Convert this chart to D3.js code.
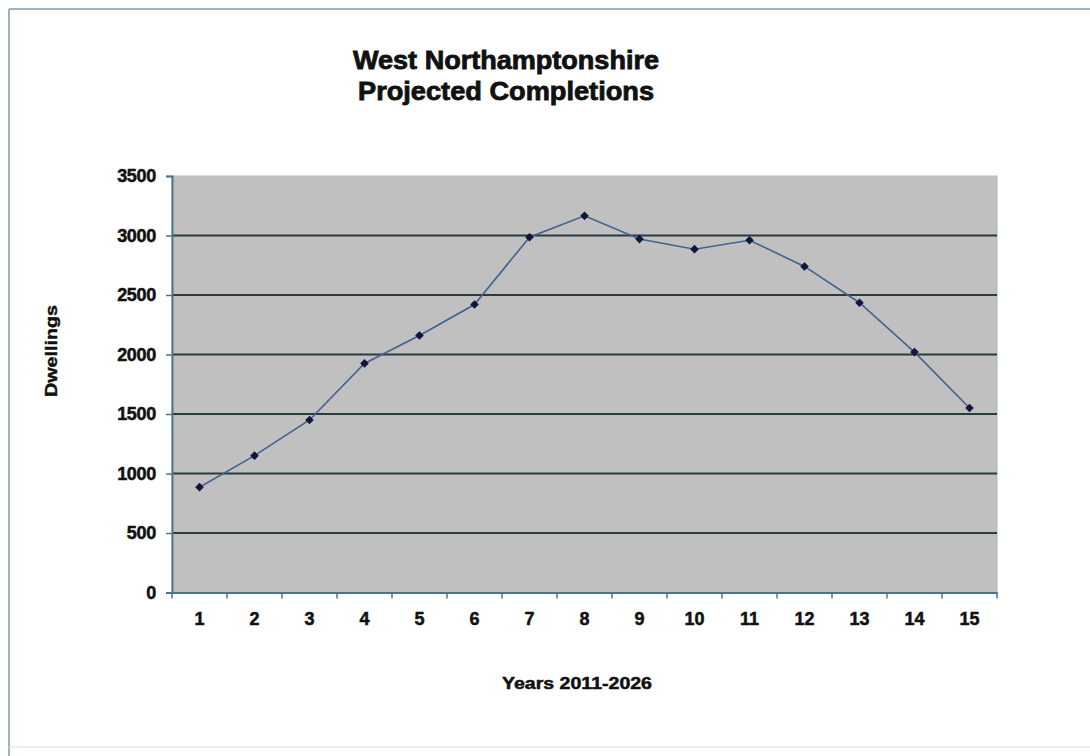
<!DOCTYPE html>
<html>
<head>
<meta charset="utf-8">
<script src="https://cdn.jsdelivr.net/npm/d3@7"></script>
<style>
  html, body { margin: 0; padding: 0; background: #ffffff; }
  svg { display: block; }
  text { font-family: "Liberation Sans", Arial, sans-serif; font-weight: bold; fill: #111; }
</style>
</head>
<body>
<svg id="chart" width="1090" height="756"></svg>
<script>
// Projected dwelling completions, one value per year of the plan period
const years = [1, 2, 3, 4, 5, 6, 7, 8, 9, 10, 11, 12, 13, 14, 15];
const dwellings = [885, 1150, 1450, 1925, 2160, 2420, 2985, 3165, 2970, 2885, 2960, 2740, 2435, 2020, 1550];
const yTicks = [0, 500, 1000, 1500, 2000, 2500, 3000, 3500];
const titleLines = ["West Northamptonshire", "Projected Completions"];
const xTitle = "Years 2011-2026";
const yTitle = "Dwellings";

const svg = d3.select("#chart");

// outer chart frame
svg.append("line").attr("x1", 9).attr("y1", 9).attr("x2", 1090).attr("y2", 9)
  .attr("stroke", "#7d9aa8").attr("stroke-width", 1.5);
svg.append("line").attr("x1", 9).attr("y1", 9).attr("x2", 9).attr("y2", 756)
  .attr("stroke", "#7d9aa8").attr("stroke-width", 1.5);
svg.append("line").attr("x1", 9).attr("y1", 747).attr("x2", 1090).attr("y2", 747)
  .attr("stroke", "#f3e6e4").attr("stroke-width", 1.5);

const plot = { left: 172, right: 997, top: 176, bottom: 592.5 };

const x = d3.scaleBand().domain(years).range([plot.left, plot.right]);
const y = d3.scaleLinear().domain([0, 3500]).range([plot.bottom, plot.top]);

// plot area background
svg.append("rect")
  .attr("x", plot.left).attr("y", plot.top)
  .attr("width", plot.right - plot.left).attr("height", plot.bottom - plot.top)
  .attr("fill", "#c0c0c0")
  .attr("stroke", "#a9bcc6").attr("stroke-width", 1);

// horizontal gridlines
svg.append("g").selectAll("line")
  .data(yTicks.filter(d => d > 0 && d < 3500))
  .join("line")
  .attr("x1", plot.left).attr("x2", plot.right)
  .attr("y1", d => y(d)).attr("y2", d => y(d))
  .attr("stroke", "#283c3e").attr("stroke-width", 2);

// y axis
const yAxis = svg.append("g")
  .attr("transform", `translate(${plot.left},0)`)
  .call(d3.axisLeft(y).tickValues(yTicks).tickSize(6).tickPadding(10).tickFormat(d3.format("d")));
yAxis.select(".domain").attr("stroke", "#4f7489").attr("stroke-width", 2);
yAxis.selectAll(".tick line").attr("stroke", "#4f7489").attr("stroke-width", 1.5);
yAxis.selectAll(".tick text")
  .style("font-size", "18px").style("font-weight", "bold")
  .attr("fill", "#111").attr("stroke", "#111").attr("stroke-width", 0.5)
  .attr("letter-spacing", "-0.3px");

// x axis with ticks on category boundaries
const xAxis = svg.append("g")
  .attr("transform", `translate(0,${plot.bottom})`)
  .call(d3.axisBottom(x).tickSize(0).tickPadding(20));
xAxis.select(".domain").attr("stroke", "#4f7489").attr("stroke-width", 2);
xAxis.selectAll(".tick text")
  .style("font-size", "18px").style("font-weight", "bold")
  .attr("fill", "#111").attr("stroke", "#111").attr("stroke-width", 0.5);
svg.append("g").selectAll("line")
  .data(years.concat([years.length + 1]))
  .join("line")
  .attr("x1", (d, i) => plot.left + i * x.bandwidth())
  .attr("x2", (d, i) => plot.left + i * x.bandwidth())
  .attr("y1", plot.bottom).attr("y2", plot.bottom + 6)
  .attr("stroke", "#4f7489").attr("stroke-width", 1.5);

// series line
const line = d3.line()
  .x((d, i) => x(years[i]) + x.bandwidth() / 2)
  .y(d => y(d));
svg.append("path")
  .datum(dwellings)
  .attr("d", line)
  .attr("fill", "none")
  .attr("stroke", "#41638e")
  .attr("stroke-width", 1.6);

// diamond markers (square turned 45 degrees)
svg.append("g").selectAll("path")
  .data(dwellings)
  .join("path")
  .attr("transform", (d, i) => `translate(${x(years[i]) + x.bandwidth() / 2},${y(d)}) rotate(45)`)
  .attr("d", d3.symbol(d3.symbolSquare, 26))
  .attr("fill", "#14143f")
  .attr("stroke", "#14143f").attr("stroke-width", 1);

// chart title
svg.append("g").selectAll("text")
  .data(titleLines)
  .join("text")
  .attr("x", 506)
  .attr("y", (d, i) => 69 + i * 31)
  .attr("text-anchor", "middle")
  .attr("textLength", (d, i) => i === 0 ? 306 : 296)
  .attr("lengthAdjust", "spacingAndGlyphs")
  .attr("stroke", "#111").attr("stroke-width", 0.8)
  .style("font-size", "25px")
  .text(d => d);

// axis titles
svg.append("text")
  .attr("x", 577).attr("y", 689)
  .attr("text-anchor", "middle")
  .attr("textLength", 150)
  .attr("lengthAdjust", "spacingAndGlyphs")
  .attr("stroke", "#111").attr("stroke-width", 0.5)
  .style("font-size", "17px")
  .text(xTitle);

svg.append("text")
  .attr("transform", "translate(57,351) rotate(-90)")
  .attr("text-anchor", "middle")
  .attr("textLength", 92)
  .attr("lengthAdjust", "spacingAndGlyphs")
  .attr("stroke", "#111").attr("stroke-width", 0.4)
  .style("font-size", "16px")
  .text(yTitle);
</script>
</body>
</html>
